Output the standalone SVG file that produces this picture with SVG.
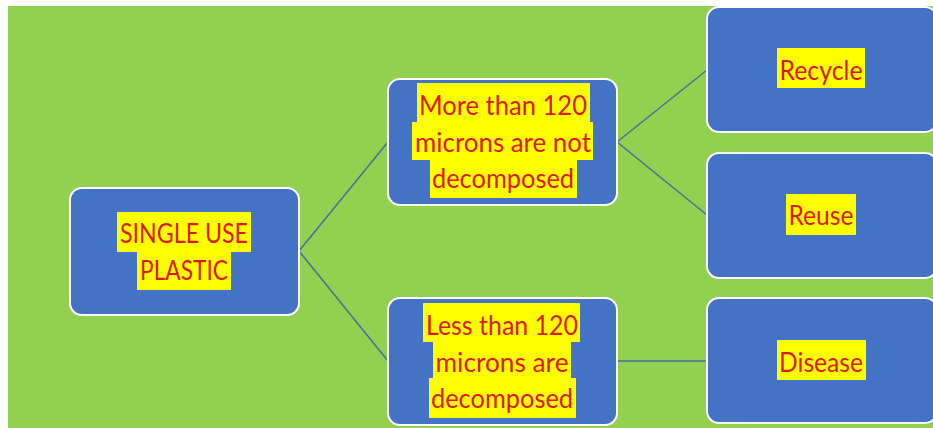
<svg xmlns="http://www.w3.org/2000/svg" width="933" height="428" viewBox="0 0 933 428">
<style>
.node{fill:#4472C4;stroke:#FFFFFF;stroke-width:2}
.hl{fill:#FFFF00}
.t{font-family:Lato,"Open Sans","Liberation Sans",sans-serif;font-size:27px;fill:#DC1A1A;text-anchor:middle}
.c{stroke:#41719C;stroke-width:1.5;fill:none}
</style>
<rect x="0" y="0" width="933" height="428" fill="#FFFFFF"/>
<rect x="8" y="6" width="925" height="422" fill="#92D050"/>
<g id="connectors">
<line class="c" x1="299" y1="251" x2="388" y2="142"/>
<line class="c" x1="299" y1="251" x2="388" y2="361"/>
<line class="c" x1="617" y1="142" x2="707" y2="70"/>
<line class="c" x1="617" y1="142" x2="707" y2="215"/>
<line class="c" x1="617" y1="361" x2="707" y2="361"/>
</g>
<g id="single-use">
<rect class="node" x="70" y="188" width="229" height="127" rx="12"/>
<rect class="hl" x="117" y="212" width="134" height="40"/>
<rect class="hl" x="137" y="252" width="94" height="38"/>
<text class="t" x="184" y="243" textLength="128" lengthAdjust="spacingAndGlyphs">SINGLE USE</text>
<text class="t" x="184" y="280" textLength="88" lengthAdjust="spacingAndGlyphs">PLASTIC</text>
</g>
<g id="more-than">
<rect class="node" x="388" y="79" width="229" height="126" rx="12"/>
<rect class="hl" x="417" y="83" width="173" height="39"/>
<rect class="hl" x="412" y="122" width="181" height="38"/>
<rect class="hl" x="430" y="160" width="147" height="38"/>
<text class="t" x="503" y="115" textLength="168" lengthAdjust="spacingAndGlyphs">More than 120</text>
<text class="t" x="503" y="152" textLength="176" lengthAdjust="spacingAndGlyphs">microns are not</text>
<text class="t" x="503" y="188" textLength="142" lengthAdjust="spacingAndGlyphs">decomposed</text>
</g>
<g id="less-than">
<rect class="node" x="388" y="298" width="229" height="127" rx="12"/>
<rect class="hl" x="423" y="303" width="157" height="39"/>
<rect class="hl" x="433" y="342" width="138" height="36"/>
<rect class="hl" x="429" y="378" width="147" height="40"/>
<text class="t" x="502" y="335" textLength="152" lengthAdjust="spacingAndGlyphs">Less than 120</text>
<text class="t" x="502" y="372" textLength="133" lengthAdjust="spacingAndGlyphs">microns are</text>
<text class="t" x="502" y="408" textLength="142" lengthAdjust="spacingAndGlyphs">decomposed</text>
</g>
<g id="recycle">
<rect class="node" x="707" y="7" width="230" height="125" rx="12"/>
<rect class="hl" x="777" y="48" width="88" height="40"/>
<text class="t" x="821" y="80" textLength="83" lengthAdjust="spacingAndGlyphs">Recycle</text>
</g>
<g id="reuse">
<rect class="node" x="707" y="153" width="230" height="125" rx="12"/>
<rect class="hl" x="786" y="194" width="70" height="41"/>
<text class="t" x="821" y="225" textLength="65" lengthAdjust="spacingAndGlyphs">Reuse</text>
</g>
<g id="disease">
<rect class="node" x="707" y="298" width="230" height="125" rx="12"/>
<rect class="hl" x="777" y="340" width="89" height="40"/>
<text class="t" x="821" y="372" textLength="84" lengthAdjust="spacingAndGlyphs">Disease</text>
</g>
</svg>
